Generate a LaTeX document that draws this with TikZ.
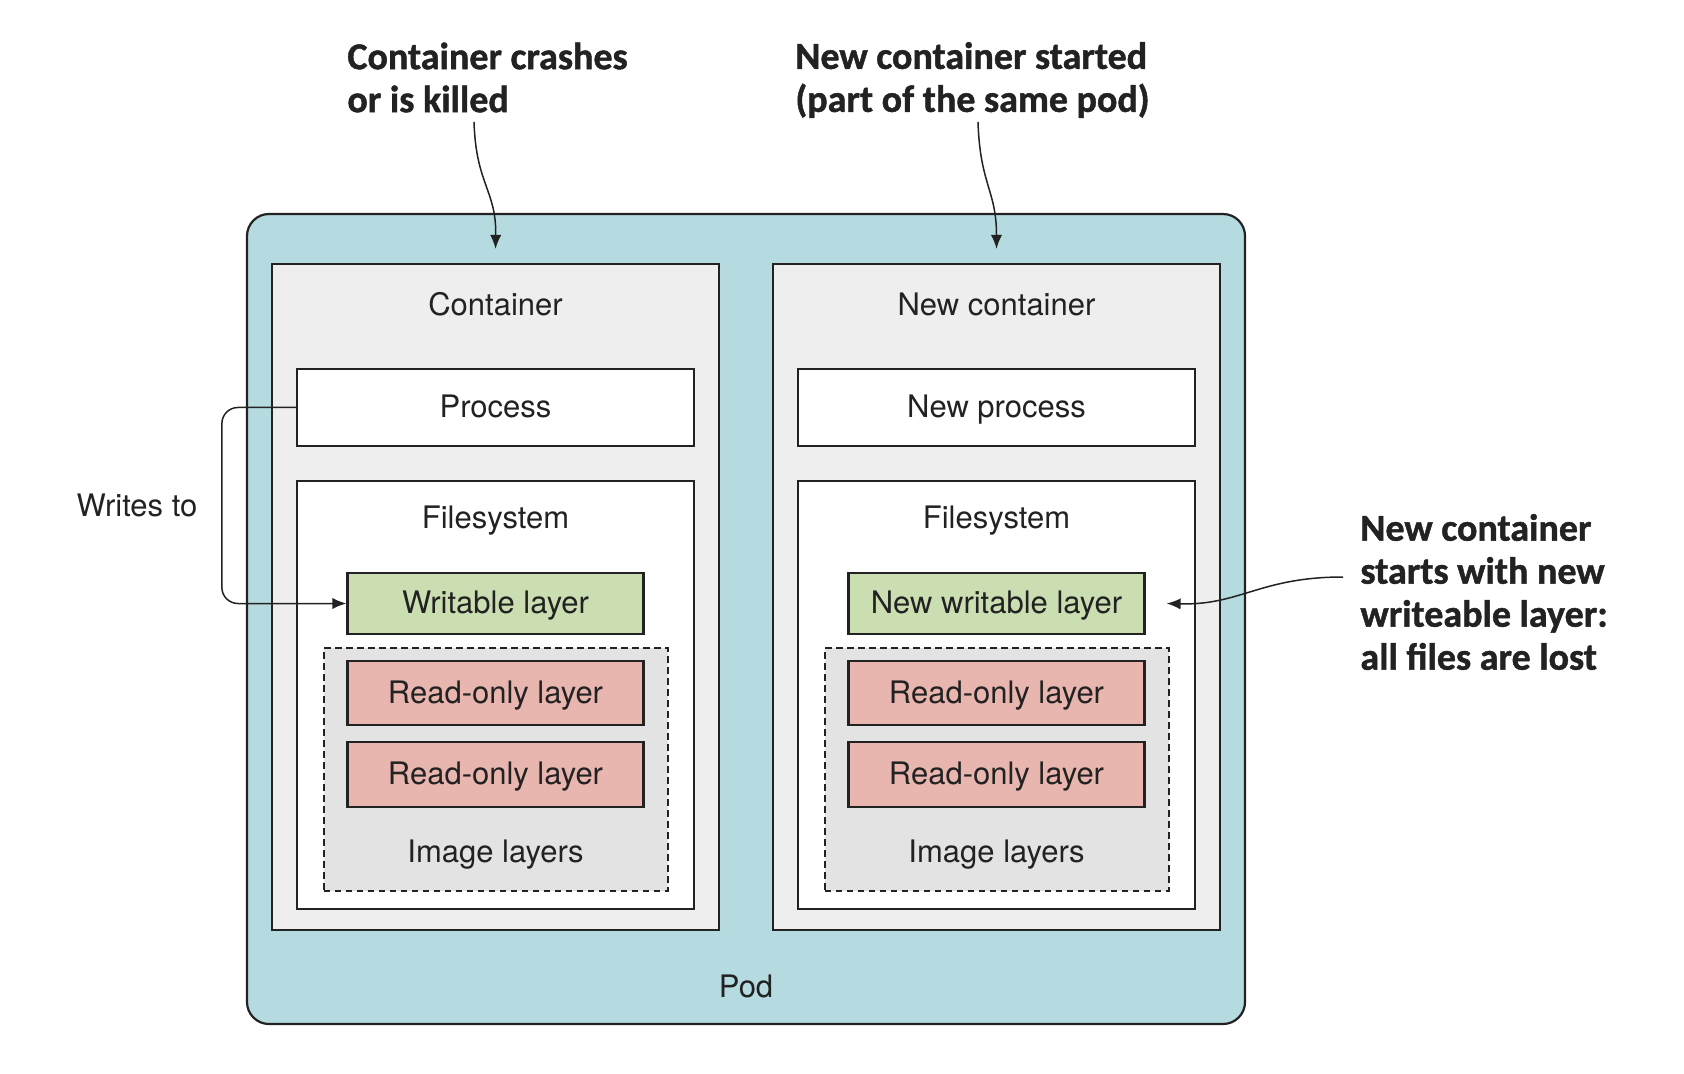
\documentclass[tikz,border=0pt]{standalone}
\usepackage{fontspec}
\setmainfont{TeX Gyre Heros}
\newfontfamily\notefont[BoldFeatures={FakeBold=1.2}]{Carlito}
\usetikzlibrary{arrows.meta}

\definecolor{podblue}{RGB}{181,218,224}
\definecolor{contgray}{RGB}{238,238,238}
\definecolor{imggray}{RGB}{227,227,227}
\definecolor{layergreen}{RGB}{202,222,178}
\definecolor{layerpink}{RGB}{232,182,175}
\definecolor{edge}{RGB}{34,34,34}

\tikzset{
  every node/.style={font=\fontsize{15.5}{18}\selectfont, text=edge},
  box/.style={draw=edge, line width=1.1pt, rectangle, inner sep=0pt, text height=12pt, text depth=1.8pt},
  note/.style={font=\notefont\bfseries\fontsize{19}{21.5}\selectfont, align=left, anchor=west, inner sep=0pt},
  tip/.style={-{Latex[length=7pt,width=5.6pt]}, line width=0.75pt, draw=edge}
}

\begin{document}
\begin{tikzpicture}[x=0.5pt,y=-0.5pt]
\useasboundingbox (0,0) rectangle (1684,1074);

\def\podx{746}

% pod
\node[box, fill=podblue, rounded corners=11pt, minimum width=499pt, minimum height=405pt] (pod) at (\podx,619) {};
\node (podlbl) at (\podx,986) {Pod};

% the two containers
\foreach \cx/\s/\ct/\pt/\wt in {495.5/l/Container/Process/Writable layer,
                                996.5/r/New container/New process/New writable layer} {
  \node[box, fill=contgray, minimum width=223.5pt, minimum height=333pt] (cont-\s) at (\cx,597) {};
  \node (contlbl-\s) at (\cx,304) {\ct};
  \node[box, fill=white, minimum width=198.5pt, minimum height=38.5pt] (proc-\s) at (\cx,407.5) {\pt};
  \node[box, fill=white, minimum width=198.5pt, minimum height=214pt] (fs-\s) at (\cx,695) {};
  \node (fslbl-\s) at (\cx,521) {Filesystem};
  \node[box, fill=layergreen, minimum width=148pt, minimum height=30.5pt] (wl-\s) at (\cx,603.5) {\wt};
  \node[box, fill=imggray, dash pattern=on 3.3pt off 2.2pt, line width=1pt, minimum width=172pt, minimum height=121.5pt] (img-\s) at (\cx,769.5) {};
  \node[box, fill=layerpink, minimum width=148pt, minimum height=32pt] (ro1-\s) at (\cx,693) {Read-only layer};
  \node[box, fill=layerpink, minimum width=148pt, minimum height=32.5pt] (ro2-\s) at (\cx,774.5) {Read-only layer};
  \node (imglbl-\s) at (\cx,855) {Image layers};
}

% writes to
\node (writes) at (137,505) {Writes to};
\draw[tip, rounded corners=8pt] (proc-l.west) -- ++(-37pt,0) |- (wl-l.west);

% notes
\node[note] (crash) at (347,77.5) {Container crashes\\or is killed};
\node[note] (started) at (795,80) {New container started\\(part of the same pod)};
\node[note] (lost) at (1360,592) {New container\\starts with new\\writeable layer:\\all files are lost};

\coordinate (crash-s) at (474,122);
\coordinate (started-s) at (978,122);
\coordinate (lost-s) at (1343,577);

\draw[tip] (crash-s) .. controls (476,185) and (496.5,190) .. ([yshift=7pt]cont-l.north);
\draw[tip] (started-s) .. controls (980,185) and (996.5,190) .. ([yshift=7pt]cont-r.north);
\draw[tip] (lost-s) .. controls (1260,577) and (1240,605.5) .. ([xshift=10.5pt]wl-r.east);
\end{tikzpicture}
\end{document}
